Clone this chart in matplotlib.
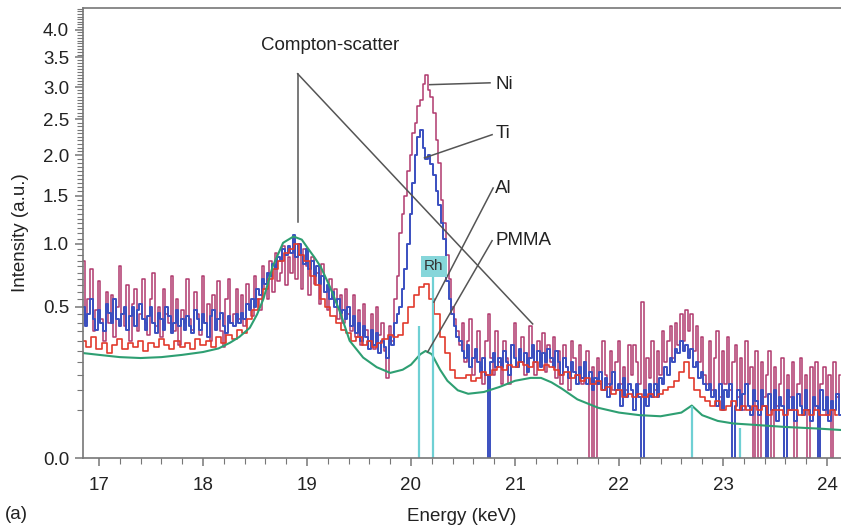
import numpy as np
import matplotlib
matplotlib.use('Agg')
import matplotlib.pyplot as plt
from matplotlib.ticker import FixedLocator, MultipleLocator, FormatStrFormatter

plt.rcParams['font.family'] = ['Liberation Sans', 'DejaVu Sans']

# spectra start at 16.85 keV; Ni and Ti in 0.025 keV bins, Al in 0.05 keV bins
e_start = 16.85
fine_step = 0.025
coarse_step = 0.05

ni = [
    0.85, 0.40, 0.55, 0.78, 0.35, 0.48, 0.68, 0.42, 0.30, 0.60, 0.40, 0.58, 0.32, 0.50, 0.80, 0.45, 0.38, 0.65, 0.30, 0.52,  # 16.85
    0.62, 0.35, 0.45, 0.70, 0.40, 0.33, 0.55, 0.75, 0.38, 0.50, 0.32, 0.62, 0.45, 0.40, 0.72, 0.35, 0.55, 0.28, 0.48, 0.40,  # 17.35
    0.70, 0.42, 0.36, 0.60, 0.45, 0.33, 0.72, 0.40, 0.52, 0.30, 0.58, 0.42, 0.68, 0.35, 0.27, 0.55, 0.70, 0.40, 0.45, 0.62,  # 17.85
    0.42, 0.58, 0.38, 0.66, 0.50, 0.44, 0.72, 0.55, 0.48, 0.80, 0.62, 0.55, 0.85, 0.60, 0.92, 0.68, 0.75, 0.98, 0.65, 0.88,  # 18.35
    0.75, 1.05, 0.70, 0.90, 0.62, 0.95, 0.80, 0.58, 0.88, 0.66, 0.75, 0.52, 0.82, 0.60, 0.48, 0.70, 0.55, 0.62, 0.42, 0.58,  # 18.85
    0.40, 0.62, 0.45, 0.35, 0.58, 0.32, 0.48, 0.28, 0.52, 0.36, 0.30, 0.45, 0.26, 0.50, 0.33, 0.40, 0.25, 0.14, 0.38, 0.30,  # 19.35
    0.55, 0.72, 1.10, 1.30, 1.50, 1.80, 2.00, 2.30, 2.45, 2.70, 2.80, 3.05, 3.20, 2.95, 2.85, 2.60, 2.20, 1.90, 1.45, 1.20,  # 19.85
    0.90, 0.70, 0.50, 0.42, 0.35, 0.28, 0.40, 0.20, 0.30, 0.42, 0.15, 0.25, 0.35, 0.18, 0.12, 0.30, 0.45, 0.22, 0.15, 0.35,  # 20.35
    0.20, 0.12, 0.30, 0.22, 0.12, 0.28, 0.40, 0.18, 0.25, 0.32, 0.15, 0.22, 0.38, 0.26, 0.15, 0.30, 0.20, 0.34, 0.16, 0.28,  # 20.85
    0.20, 0.32, 0.14, 0.25, 0.12, 0.28, 0.18, 0.10, 0.30, 0.22, 0.15, 0.28, 0.12, 0.20, 0.25, 0.00, 0.18, 0.00, 0.22, 0.12,  # 21.35
    0.30, 0.15, 0.12, 0.25, 0.10, 0.20, 0.30, 0.12, 0.18, 0.10, 0.28, 0.15, 0.28, 0.20, 0.12, 0.53, 0.10, 0.22, 0.14, 0.30,  # 21.85
    0.10, 0.25, 0.15, 0.35, 0.20, 0.30, 0.38, 0.22, 0.40, 0.28, 0.45, 0.30, 0.48, 0.35, 0.45, 0.25, 0.38, 0.20, 0.32, 0.15,  # 22.35
    0.12, 0.30, 0.10, 0.22, 0.35, 0.08, 0.25, 0.12, 0.32, 0.10, 0.20, 0.28, 0.08, 0.22, 0.05, 0.30, 0.12, 0.18, 0.00, 0.25,  # 22.85
    0.00, 0.20, 0.08, 0.15, 0.25, 0.00, 0.18, 0.06, 0.12, 0.22, 0.00, 0.15, 0.08, 0.20, 0.00, 0.12, 0.22, 0.05, 0.15, 0.00,  # 23.35
    0.18, 0.05, 0.20, 0.00, 0.12, 0.18, 0.04, 0.15, 0.00, 0.20, 0.08, 0.15,                                                  # 23.85
]

ti = [
    0.50, 0.38, 0.45, 0.55, 0.42, 0.36, 0.48, 0.40, 0.35, 0.52, 0.46, 0.40, 0.55, 0.42, 0.38, 0.45, 0.50, 0.36, 0.44, 0.50,
    0.38, 0.48, 0.52, 0.42, 0.36, 0.44, 0.50, 0.40, 0.34, 0.46, 0.42, 0.36, 0.50, 0.44, 0.34, 0.40, 0.48, 0.38, 0.42, 0.36,
    0.44, 0.38, 0.34, 0.48, 0.42, 0.36, 0.45, 0.40, 0.32, 0.44, 0.48, 0.36, 0.42, 0.46, 0.38, 0.34, 0.44, 0.40, 0.38, 0.45,
    0.40, 0.46, 0.42, 0.52, 0.48, 0.55, 0.50, 0.62, 0.58, 0.70, 0.66, 0.75, 0.72, 0.82, 0.78, 0.88, 0.85, 0.95, 0.90, 0.98,
    0.92, 1.08, 0.88, 1.00, 0.90, 0.82, 0.95, 0.78, 0.85, 0.72, 0.80, 0.66, 0.72, 0.60, 0.65, 0.55, 0.60, 0.50, 0.55, 0.46,
    0.48, 0.42, 0.50, 0.38, 0.44, 0.34, 0.40, 0.30, 0.38, 0.32, 0.26, 0.36, 0.28, 0.34, 0.24, 0.30, 0.27, 0.22, 0.32, 0.28,
    0.40, 0.45, 0.50, 0.62, 0.78, 1.00, 1.30, 1.65, 2.00, 2.25, 2.35, 2.10, 1.95, 2.00, 1.88, 1.75, 1.55, 1.40, 1.20, 1.05,
    0.68, 0.55, 0.45, 0.38, 0.32, 0.30, 0.25, 0.22, 0.28, 0.18, 0.22, 0.26, 0.20, 0.16, 0.22, 0.15, 0.00, 0.20, 0.24, 0.18,
    0.22, 0.18, 0.25, 0.20, 0.15, 0.28, 0.22, 0.18, 0.26, 0.20, 0.24, 0.16, 0.22, 0.28, 0.20, 0.25, 0.18, 0.24, 0.20, 0.26,
    0.22, 0.18, 0.25, 0.20, 0.15, 0.22, 0.18, 0.14, 0.20, 0.16, 0.12, 0.18, 0.14, 0.20, 0.12, 0.16, 0.10, 0.14, 0.12, 0.16,
    0.10, 0.14, 0.08, 0.12, 0.16, 0.10, 0.12, 0.06, 0.14, 0.08, 0.12, 0.10, 0.05, 0.12, 0.08, 0.00, 0.10, 0.06, 0.12, 0.08,
    0.12, 0.08, 0.14, 0.12, 0.18, 0.15, 0.22, 0.20, 0.26, 0.24, 0.30, 0.25, 0.28, 0.22, 0.26, 0.18, 0.20, 0.14, 0.16, 0.12,
    0.10, 0.12, 0.08, 0.10, 0.06, 0.12, 0.05, 0.10, 0.08, 0.12, 0.00, 0.06, 0.10, 0.05, 0.09, 0.12, 0.06, 0.04, 0.10, 0.07,
    0.04, 0.10, 0.06, 0.00, 0.09, 0.05, 0.10, 0.03, 0.08, 0.06, 0.00, 0.10, 0.05, 0.08, 0.03, 0.09, 0.06, 0.04, 0.10, 0.05,
    0.03, 0.08, 0.06, 0.00, 0.10, 0.05, 0.08, 0.03, 0.07, 0.05, 0.09, 0.04,
]

al = [
    0.30, 0.27, 0.32, 0.26, 0.29, 0.24, 0.28, 0.31, 0.26, 0.29,   # 16.85
    0.27, 0.30, 0.25, 0.29, 0.27, 0.31, 0.28, 0.26, 0.30, 0.27,   # 17.35
    0.29, 0.26, 0.31, 0.28, 0.30, 0.27, 0.32, 0.29, 0.33, 0.31,   # 17.85
    0.36, 0.34, 0.42, 0.48, 0.55, 0.62, 0.70, 0.78, 0.85, 0.92,   # 18.35
    0.95, 1.00, 0.90, 0.85, 0.72, 0.65, 0.55, 0.50, 0.44, 0.40,   # 18.85
    0.36, 0.34, 0.30, 0.32, 0.28, 0.30, 0.27, 0.29, 0.31, 0.33,   # 19.35
    0.32, 0.33, 0.40, 0.50, 0.58, 0.64, 0.66, 0.55, 0.45, 0.32,   # 19.85
    0.24, 0.17, 0.14, 0.14, 0.15, 0.13, 0.14, 0.16, 0.15, 0.17,   # 20.35
    0.18, 0.17, 0.19, 0.18, 0.20, 0.19, 0.18, 0.20, 0.17, 0.19,   # 20.85
    0.18, 0.17, 0.15, 0.16, 0.14, 0.15, 0.13, 0.14, 0.12, 0.13,   # 21.35
    0.10, 0.11, 0.09, 0.10, 0.08, 0.09, 0.08, 0.09, 0.08, 0.09,   # 21.85
    0.08, 0.09, 0.10, 0.11, 0.13, 0.16, 0.20, 0.14, 0.10, 0.08,   # 22.35
    0.07, 0.06, 0.07, 0.05, 0.06, 0.07, 0.05, 0.06, 0.05, 0.06,   # 22.85
    0.05, 0.06, 0.04, 0.05, 0.05, 0.04, 0.05, 0.05, 0.04, 0.05,   # 23.35
    0.04, 0.05, 0.04, 0.04, 0.05, 0.04,                           # 23.85
]

pmma_e = [16.85, 17.0, 17.2, 17.4, 17.6, 17.8, 18.0, 18.15, 18.26, 18.35,
          18.45, 18.52, 18.58, 18.67, 18.77, 18.87, 18.95, 19.0, 19.07, 19.13,
          19.22, 19.32, 19.41, 19.54, 19.67, 19.8, 19.92, 20.0, 20.09, 20.14,
          20.2, 20.28, 20.35, 20.45, 20.55, 20.7, 20.85, 21.0, 21.15, 21.25,
          21.35, 21.45, 21.6, 21.8, 22.0, 22.2, 22.4, 22.6, 22.7, 22.8,
          22.95, 23.1, 23.3, 23.6, 23.9, 24.15]
pmma_i = [0.24, 0.232, 0.222, 0.218, 0.222, 0.232, 0.245, 0.262, 0.29, 0.32,
          0.37, 0.45, 0.55, 0.80, 1.01, 1.07, 1.04, 0.97, 0.88, 0.80,
          0.64, 0.46, 0.30, 0.22, 0.18, 0.158, 0.17, 0.19, 0.235, 0.25,
          0.235, 0.17, 0.13, 0.10, 0.09, 0.095, 0.11, 0.13, 0.14, 0.14,
          0.125, 0.105, 0.075, 0.055, 0.045, 0.04, 0.038, 0.045, 0.06, 0.04,
          0.03, 0.026, 0.024, 0.021, 0.019, 0.017]

# Rh reference lines
rh_e = [20.08, 20.21, 22.70, 23.16]
rh_h = [0.38, 0.72, 0.06, 0.02]


def bins(vals, step):
    return np.round(e_start + step * np.arange(len(vals)), 3)


fig = plt.figure(figsize=(8.41, 5.29), dpi=100)
ax = fig.add_axes([0.0987, 0.1342, 0.9013, 0.851])

ax.set_yscale('function', functions=(lambda v: np.sqrt(np.clip(v, 0, None)), np.square))
ax.set_xlim(16.846, 24.135)
ax.set_ylim(0, 4.42)

ax.step(bins(ni, fine_step), ni, where='mid', color='#a8245e', lw=1.1, alpha=0.9)
ax.step(bins(ti, fine_step), ti, where='mid', color='#3a4fc0', lw=1.4)
ax.step(bins(al, coarse_step), al, where='mid', color='#e23a2c', lw=1.2)
ax.plot(pmma_e, pmma_i, color='#2e9f72', lw=1.5)
ax.vlines(rh_e, 0, rh_h, color='#6fd0d4', lw=1.6)

# annotation lines
lc = '#555555'
ax.plot([18.91, 18.91], [1.216, 3.22], color=lc, lw=1.1)
ax.plot([18.91, 21.17], [3.22, 0.392], color=lc, lw=1.1)
ax.text(19.22, 3.72, 'Compton-scatter', fontsize=13.5, ha='center', va='center', color='#222222')

ax.plot([20.18, 20.76], [3.04, 3.07], color=lc, lw=1.1)
ax.plot([20.13, 20.78], [1.965, 2.28], color=lc, lw=1.1)
ax.plot([20.22, 20.79], [0.53, 1.59], color=lc, lw=1.1)
ax.plot([20.16, 20.78], [0.245, 1.03], color=lc, lw=1.1)
ax.text(20.81, 3.05, 'Ni', fontsize=13.5, va='center', color='#222222')
ax.text(20.81, 2.30, 'Ti', fontsize=13.5, va='center', color='#222222')
ax.text(20.81, 1.59, 'Al', fontsize=13.5, va='center', color='#222222')
ax.text(20.81, 1.03, 'PMMA', fontsize=13.5, va='center', color='#222222')
ax.text(20.22, 0.80, 'Rh', fontsize=11, ha='center', va='center', color='#333333',
        bbox=dict(boxstyle='square,pad=0.2', fc='#86d6da', ec='none'))

# axes styling
for s in ['left', 'bottom', 'top']:
    ax.spines[s].set_color('#777777')
    ax.spines[s].set_linewidth(1.2)
ax.spines['right'].set_visible(False)

ax.yaxis.set_major_locator(FixedLocator(np.arange(0, 4.01, 0.5)))
ax.yaxis.set_minor_locator(FixedLocator(np.arange(0, 4.41, 0.05)))
ax.yaxis.set_major_formatter(FormatStrFormatter('%.1f'))
ax.xaxis.set_major_locator(MultipleLocator(1))
ax.xaxis.set_minor_locator(MultipleLocator(0.2))
ax.tick_params(which='both', direction='out', color='#777777', labelsize=13.5, labelcolor='#222222')
ax.tick_params(which='major', length=6, width=1.1)
ax.tick_params(which='minor', length=4, width=0.8)
ax.tick_params(axis='x', which='major', pad=8)
ax.tick_params(axis='y', which='major', pad=4)

ax.set_xlabel('Energy (keV)', fontsize=13.5, color='#222222', labelpad=10)
ax.set_ylabel('Intensity (a.u.)', fontsize=13.5, color='#222222', labelpad=10)
fig.text(0.006, 0.028, '(a)', fontsize=13.5, color='#222222', va='center')

fig.savefig('out.png', dpi=100)
